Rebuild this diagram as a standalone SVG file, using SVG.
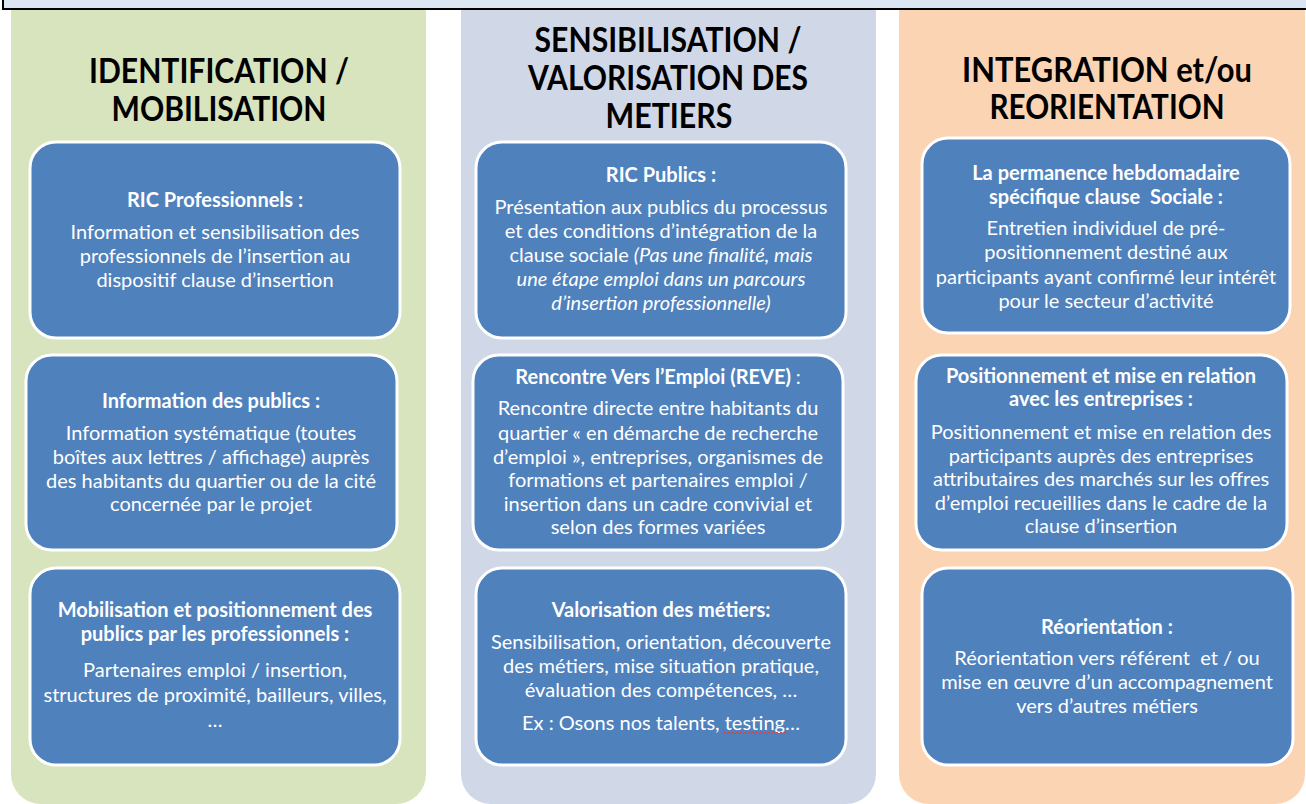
<svg xmlns="http://www.w3.org/2000/svg" width="1306" height="804" viewBox="0 0 1306 804">
  <style>
    .col-green { fill: #d7e4bd; }
    .col-blue { fill: #d0d8e8; }
    .col-peach { fill: #fbd4b4; }
    .box { fill: #4f81bd; stroke: #ffffff; stroke-width: 3; }
    .title { font-family: Lato, "Liberation Sans", sans-serif; font-weight: 700; font-size: 34px; fill: #000000; text-anchor: middle; }
    .head { font-family: Lato, "Liberation Sans", sans-serif; font-weight: 700; font-size: 20px; fill: #ffffff; text-anchor: middle; }
    .body { font-family: Lato, "Liberation Sans", sans-serif; font-size: 20px; fill: #ffffff; text-anchor: middle; }
    .it { font-style: italic; }
  </style>

  <!-- top banner (cropped) -->
  <rect x="3" y="-20" width="1320" height="29" fill="#dce6f2" stroke="#000000" stroke-width="2"/>

  <!-- column backgrounds -->
  <g id="column-identification">
    <path class="col-green" d="M11 10 H426 V774 A30 30 0 0 1 396 804 H41 A30 30 0 0 1 11 774 Z"/>
    <text class="title" x="219" y="83" textLength="260" lengthAdjust="spacingAndGlyphs">IDENTIFICATION /</text>
    <text class="title" x="219" y="121" textLength="215" lengthAdjust="spacingAndGlyphs">MOBILISATION</text>
  </g>
  <g id="column-sensibilisation">
    <path class="col-blue" d="M461 10 H876 V774 A30 30 0 0 1 846 804 H491 A30 30 0 0 1 461 774 Z"/>
    <text class="title" x="668" y="52" textLength="267" lengthAdjust="spacingAndGlyphs">SENSIBILISATION /</text>
    <text class="title" x="668" y="90" textLength="280" lengthAdjust="spacingAndGlyphs">VALORISATION DES</text>
    <text class="title" x="669" y="128" textLength="127" lengthAdjust="spacingAndGlyphs">METIERS</text>
  </g>
  <g id="column-integration">
    <path class="col-peach" d="M899 10 H1305 V774 A30 30 0 0 1 1275 804 H929 A30 30 0 0 1 899 774 Z"/>
    <text class="title" x="1107" y="82" textLength="290" lengthAdjust="spacingAndGlyphs">INTEGRATION et/ou</text>
    <text class="title" x="1107" y="119" textLength="235" lengthAdjust="spacingAndGlyphs">REORIENTATION</text>
  </g>

  <!-- column 1 boxes -->
  <g id="ric-professionnels">
    <rect class="box" x="30" y="142" width="370" height="196" rx="26"/>
    <text class="head" x="215" y="207">RIC Professionnels :</text>
    <text class="body" x="215" y="239">Information et sensibilisation des</text>
    <text class="body" x="215" y="263">professionnels de l’insertion au</text>
    <text class="body" x="215" y="287">dispositif clause d’insertion</text>
  </g>
  <g id="information-publics">
    <rect class="box" x="26" y="355" width="371" height="195" rx="26"/>
    <text class="head" x="211" y="408">Information des publics :</text>
    <text class="body" x="211" y="440">Information systématique (toutes</text>
    <text class="body" x="211" y="464">boîtes aux lettres / affichage) auprès</text>
    <text class="body" x="211" y="488">des habitants du quartier ou de la cité</text>
    <text class="body" x="211" y="511">concernée par le projet</text>
  </g>
  <g id="mobilisation-positionnement">
    <rect class="box" x="30" y="568" width="370" height="197" rx="26"/>
    <text class="head" x="215" y="617">Mobilisation et positionnement des</text>
    <text class="head" x="215" y="641">publics par les professionnels :</text>
    <text class="body" x="215" y="677">Partenaires emploi / insertion,</text>
    <text class="body" x="215" y="702">structures de proximité, bailleurs, villes,</text>
    <text class="body" x="215" y="727">…</text>
  </g>

  <!-- column 2 boxes -->
  <g id="ric-publics">
    <rect class="box" x="476" y="142" width="370" height="196" rx="26"/>
    <text class="head" x="661" y="182">RIC Publics :</text>
    <text class="body" x="661" y="214">Présentation aux publics du processus</text>
    <text class="body" x="661" y="238">et des conditions d’intégration de la</text>
    <text class="body" x="661" y="262">clause sociale <tspan class="it">(Pas une finalité, mais</tspan></text>
    <text class="body it" x="661" y="286">une étape emploi dans un parcours</text>
    <text class="body it" x="661" y="310">d’insertion professionnelle)</text>
  </g>
  <g id="rencontre-vers-emploi">
    <rect class="box" x="473" y="355" width="370" height="195" rx="26"/>
    <text class="head" x="658" y="384">Rencontre Vers l’Emploi (REVE) <tspan font-weight="400">:</tspan></text>
    <text class="body" x="658" y="415">Rencontre directe entre habitants du</text>
    <text class="body" x="658" y="440">quartier « en démarche de recherche</text>
    <text class="body" x="658" y="464">d’emploi », entreprises, organismes de</text>
    <text class="body" x="658" y="487">formations et partenaires emploi /</text>
    <text class="body" x="658" y="511">insertion dans un cadre convivial et</text>
    <text class="body" x="658" y="534">selon des formes variées</text>
  </g>
  <g id="valorisation-metiers">
    <rect class="box" x="476" y="568" width="370" height="197" rx="26"/>
    <text class="head" x="661" y="617">Valorisation des métiers:</text>
    <text class="body" x="661" y="649">Sensibilisation, orientation, découverte</text>
    <text class="body" x="661" y="673">des métiers, mise situation pratique,</text>
    <text class="body" x="661" y="697">évaluation des compétences, …</text>
    <text class="body" x="661" y="730">Ex : Osons nos talents, testing…</text>
    <polyline points="723,734 725,732 727,734 729,732 731,734 733,732 735,734 737,732 739,734 741,732 743,734 745,732 747,734 749,732 751,734 753,732 755,734 757,732 759,734 761,732 763,734 765,732 767,734 769,732 771,734 773,732 775,734 777,732 779,734 781,732 783,734 785,732 787,734" fill="none" stroke="#e04040" stroke-width="1"/>
  </g>

  <!-- column 3 boxes -->
  <g id="permanence-hebdomadaire">
    <rect class="box" x="922" y="138" width="368" height="195" rx="26"/>
    <text class="head" x="1106" y="180">La permanence hebdomadaire</text>
    <text class="head" x="1106" y="204" xml:space="preserve">spécifique clause  Sociale :</text>
    <text class="body" x="1106" y="235">Entretien individuel de pré-</text>
    <text class="body" x="1106" y="259">positionnement destiné aux</text>
    <text class="body" x="1106" y="284">participants ayant confirmé leur intérêt</text>
    <text class="body" x="1106" y="308">pour le secteur d’activité</text>
  </g>
  <g id="positionnement-entreprises">
    <rect class="box" x="916" y="355" width="371" height="195" rx="26"/>
    <text class="head" x="1101" y="383">Positionnement et mise en relation</text>
    <text class="head" x="1101" y="406">avec les entreprises :</text>
    <text class="body" x="1101" y="439">Positionnement et mise en relation des</text>
    <text class="body" x="1101" y="463">participants auprès des entreprises</text>
    <text class="body" x="1101" y="486">attributaires des marchés sur les offres</text>
    <text class="body" x="1101" y="510">d’emploi recueillies dans le cadre de la</text>
    <text class="body" x="1101" y="533">clause d’insertion</text>
  </g>
  <g id="reorientation">
    <rect class="box" x="922" y="568" width="371" height="197" rx="26"/>
    <text class="head" x="1107" y="634">Réorientation :</text>
    <text class="body" x="1107" y="665" xml:space="preserve">Réorientation vers référent  et / ou</text>
    <text class="body" x="1107" y="689">mise en œuvre d’un accompagnement</text>
    <text class="body" x="1107" y="713">vers d’autres métiers</text>
  </g>

  <g id="connectors"/>
</svg>
